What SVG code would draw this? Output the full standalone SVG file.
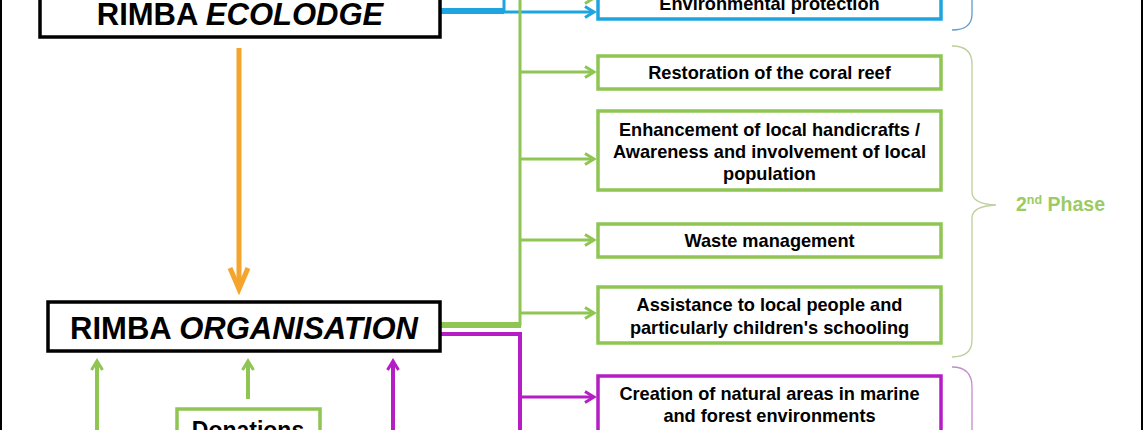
<svg xmlns="http://www.w3.org/2000/svg" width="1144" height="430" viewBox="0 0 1144 430">
<defs>
<style>
.t{font-family:"Liberation Sans",Arial,sans-serif;font-weight:bold;fill:#000;text-anchor:middle}
.big{font-size:31px}
.mid{font-size:18.2px}
.blk{fill:#fff;stroke:#000;stroke-width:3.5}
.grn{fill:#fff;stroke:#8fc553;stroke-width:3.5}
.blu{fill:#fff;stroke:#1ea5e0;stroke-width:3.5}
.mag{fill:#fff;stroke:#b41ec4;stroke-width:3.5}
.gl{stroke:#8fc553;fill:none}
.bl{stroke:#1ea5e0;fill:none}
.ml{stroke:#b41ec4;fill:none}
.brace{fill:none;stroke-width:1.3}
</style>
<marker id="ag" markerUnits="userSpaceOnUse" markerWidth="16" markerHeight="16" refX="12" refY="8" orient="auto"><path d="M3,2.5 L12,8 L3,13.5" fill="none" stroke="#8fc553" stroke-width="3"/></marker>
<marker id="ab" markerUnits="userSpaceOnUse" markerWidth="16" markerHeight="16" refX="12" refY="8" orient="auto"><path d="M3,2.5 L12,8 L3,13.5" fill="none" stroke="#1ea5e0" stroke-width="3"/></marker>
<marker id="am" markerUnits="userSpaceOnUse" markerWidth="16" markerHeight="16" refX="12" refY="8" orient="auto"><path d="M3,2.5 L12,8 L3,13.5" fill="none" stroke="#b41ec4" stroke-width="3"/></marker>
<marker id="ao" markerUnits="userSpaceOnUse" markerWidth="30" markerHeight="30" refX="24" refY="15" orient="auto"><path d="M3,6 L24,15 L3,24" fill="none" stroke="#f5a42c" stroke-width="5"/></marker>
</defs>
<rect width="1144" height="430" fill="#fff"/>
<line x1="1" y1="0" x2="1" y2="430" stroke="#000" stroke-width="2"/>
<line x1="1142" y1="0" x2="1142" y2="430" stroke="#000" stroke-width="2"/>

<g id="connectors">
<line x1="239" y1="48" x2="239" y2="289" stroke="#f5a42c" stroke-width="5" marker-end="url(#ao)"/>
<line x1="441" y1="11" x2="504" y2="11" class="bl" stroke-width="6"/>
<line x1="504" y1="0" x2="504" y2="12" class="bl" stroke-width="3"/>
<line x1="504" y1="12" x2="594" y2="12" class="bl" stroke-width="3" marker-end="url(#ab)"/>
<line x1="520" y1="0" x2="520" y2="326" class="gl" stroke-width="3"/>
<line x1="441" y1="325" x2="521" y2="325" class="gl" stroke-width="6"/>
<line x1="520" y1="-2" x2="594" y2="-2" class="gl" stroke-width="3" marker-end="url(#ag)"/>
<line x1="520" y1="72" x2="594" y2="72" class="gl" stroke-width="3" marker-end="url(#ag)"/>
<line x1="520" y1="159" x2="594" y2="159" class="gl" stroke-width="3" marker-end="url(#ag)"/>
<line x1="520" y1="240" x2="594" y2="240" class="gl" stroke-width="3" marker-end="url(#ag)"/>
<line x1="520" y1="313" x2="594" y2="313" class="gl" stroke-width="3" marker-end="url(#ag)"/>
<polyline points="441,334 520,334 520,430" class="ml" stroke-width="4"/>
<line x1="520" y1="397" x2="594" y2="397" class="ml" stroke-width="3" marker-end="url(#am)"/>
<line x1="97" y1="430" x2="97" y2="361" class="gl" stroke-width="4" marker-end="url(#ag)"/>
<line x1="248" y1="399" x2="248" y2="361" class="gl" stroke-width="4" marker-end="url(#ag)"/>
<line x1="393" y1="430" x2="393" y2="361" class="ml" stroke-width="4" marker-end="url(#am)"/>
</g>

<g id="ecolodge">
<rect x="40" y="-20" width="400" height="57" class="blk"/>
<text x="240" y="25" class="t big">RIMBA <tspan font-style="italic">ECOLODGE</tspan></text>
</g>
<g id="organisation">
<rect x="48" y="302" width="392" height="49" class="blk"/>
<text x="244" y="339" class="t big">RIMBA <tspan font-style="italic">ORGANISATION</tspan></text>
</g>
<g id="donations">
<rect x="177" y="409" width="143" height="40" class="grn"/>
<text x="248" y="438" class="t" font-size="23">Donations</text>
</g>

<g id="env">
<rect x="598" y="-20" width="343" height="39" class="blu"/>
<text x="769.5" y="10" class="t mid">Environmental protection</text>
</g>
<g id="coral">
<rect x="598" y="56" width="343" height="33" class="grn"/>
<text x="769.5" y="79" class="t mid">Restoration of the coral reef</text>
</g>
<g id="handicrafts">
<rect x="598" y="111" width="343" height="79" class="grn"/>
<text x="769.5" y="136" class="t mid">Enhancement of local handicrafts /</text>
<text x="769.5" y="158" class="t mid">Awareness and involvement of local</text>
<text x="769.5" y="180" class="t mid">population</text>
</g>
<g id="waste">
<rect x="598" y="224" width="343" height="33" class="grn"/>
<text x="769.5" y="247" class="t mid">Waste management</text>
</g>
<g id="assistance">
<rect x="598" y="287" width="343" height="56" class="grn"/>
<text x="769.5" y="311" class="t mid">Assistance to local people and</text>
<text x="769.5" y="334" class="t mid">particularly children's schooling</text>
</g>
<g id="natural">
<rect x="598" y="376" width="343" height="70" class="mag"/>
<text x="769.5" y="400" class="t mid">Creation of natural areas in marine</text>
<text x="769.5" y="422" class="t mid">and forest environments</text>
</g>

<g id="braces">
<path d="M972,0 L972,14 Q972,30 952,30" class="brace" stroke="#5f9ccc"/>
<path d="M952,46 Q972,46 972,64 L972,192 Q972,204 996,205 Q972,206 972,218 L972,340 Q972,357 952,357" class="brace" stroke="#bccf9c"/>
<path d="M952,367 Q972,367 972,387 L972,430" class="brace" stroke="#c48ccc"/>
<text x="1016" y="211" font-family="'Liberation Sans',Arial,sans-serif" font-weight="bold" font-size="19.5" fill="#9bcb62">2<tspan font-size="12.5" dy="-7">nd</tspan><tspan dy="7"> Phase</tspan></text>
</g>
</svg>
